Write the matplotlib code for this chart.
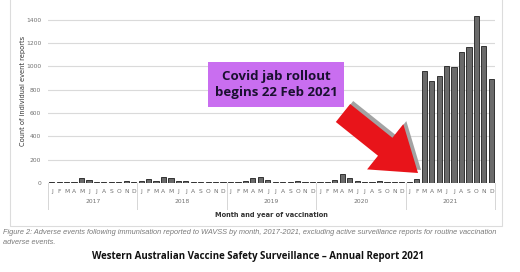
import numpy as np
import matplotlib.pyplot as plt
from matplotlib.patches import Rectangle, FancyArrow

# Monthly adverse event reports to WAVSS, 2017-2021
years = ['2017', '2018', '2019', '2020', '2021']
months = ['J', 'F', 'M', 'A', 'M', 'J', 'J', 'A', 'S', 'O', 'N', 'D']
counts_2017 = [10, 10, 12, 10, 40, 25, 12, 10, 10, 12, 15, 10]
counts_2018 = [15, 30, 20, 50, 45, 20, 15, 12, 10, 10, 10, 10]
counts_2019 = [8, 10, 20, 45, 50, 25, 12, 10, 10, 15, 12, 10]
counts_2020 = [10, 10, 25, 80, 45, 15, 10, 12, 15, 10, 10, 12]
counts_2021 = [12, 36, 960, 875, 918, 1005, 995, 1125, 1168, 1428, 1175, 890]

counts = counts_2017 + counts_2018 + counts_2019 + counts_2020 + counts_2021
x = np.arange(len(counts))

W, H = 520, 272
fig = plt.figure(figsize=(W / 100, H / 100), dpi=100)
fig.patch.set_facecolor('white')

# light frame around the chart
fig.patches.append(Rectangle((10 / W, 1 - 226 / H), 492 / W, 226 / H + 0.01,
                             transform=fig.transFigure, fill=False,
                             edgecolor='#dcdcdc', lw=0.8))

ax = fig.add_axes([48 / W, 1 - 183 / H, 447 / W, 170.4 / H])
ax.bar(x, counts, width=0.7, color='#6a6a6a', edgecolor='#1e1e1e', lw=0.6, zorder=3)

ax.set_xlim(-0.5, len(counts) - 0.5)
ax.set_ylim(0, 1460)
ax.set_yticks(range(0, 1401, 200))
ax.tick_params(axis='y', length=0, labelsize=4.3, labelcolor='#707070', pad=5)
ax.grid(axis='y', color='#dadada', lw=0.8, zorder=0)
for s in ax.spines.values():
    s.set_visible(False)
ax.axhline(0, color='#d0d0d0', lw=0.8, zorder=1)

ax.set_xticks(x)
ax.set_xticklabels(months * len(years))
ax.tick_params(axis='x', length=0, labelsize=4.3, labelcolor='#707070', pad=4)

# year labels and separators under the month letters
for i, yr in enumerate(years):
    ax.text(i * 12 + 5.5, -0.11, yr, transform=ax.get_xaxis_transform(),
            ha='center', va='center', fontsize=4.3, color='#707070')
for i in range(len(years) + 1):
    ax.plot([i * 12 - 0.5] * 2, [0, -0.15], transform=ax.get_xaxis_transform(),
            color='#d6d6d6', lw=0.7, clip_on=False)

ax.set_xlabel('Month and year of vaccination', fontsize=4.8, fontweight='bold',
              color='#333333', labelpad=13)
fig.text(23 / W, 1 - 91 / H, 'Count of individual event reports', rotation=90,
         ha='center', va='center', fontsize=4.8, color='#333333')

# annotation box
fig.patches.append(Rectangle((208 / W, 1 - 107 / H), 136 / W, 45 / H,
                             transform=fig.transFigure, facecolor='#c96ef0',
                             edgecolor='none', zorder=5))
fig.text(276 / W, 1 - 84.5 / H, 'Covid jab rollout\nbegins 22 Feb 2021',
         ha='center', va='center', fontsize=9.5, fontweight='bold',
         family='Open Sans', color='#1a1030', linespacing=1.25, zorder=6)

# red arrow pointing at Feb 2021, with a grey bevel behind it
for dx_off, dy_off, col in [(3, 3, '#a3a3a3'), (0, 0, '#e8141a')]:
    arr = FancyArrow((343 + dx_off) / 100, (H - 113 + dy_off) / 100, 0.75, -0.60,
                     width=0.23, head_width=0.58, head_length=0.42,
                     length_includes_head=True, transform=fig.dpi_scale_trans,
                     facecolor=col, edgecolor='none', zorder=7)
    fig.patches.append(arr)

# caption and source
fig.text(3 / W, 1 - 233 / H,
         'Figure 2: Adverse events following immunisation reported to WAVSS by month, '
         '2017-2021, excluding active surveillance reports for routine vaccination',
         ha='left', va='center', fontsize=5.3, style='italic', color='#7a7a7a',
         family='Liberation Sans')
fig.text(3 / W, 1 - 243 / H, 'adverse events.', ha='left', va='center',
         fontsize=5.3, style='italic', color='#7a7a7a', family='Liberation Sans')
fig.text(258 / W, 1 - 257 / H,
         'Western Australian Vaccine Safety Surveillance \u2013 Annual Report 2021',
         ha='center', va='center', fontsize=7.0, fontweight='bold', color='#111111',
         family='Open Sans')

fig.savefig('out.png', dpi=100)
